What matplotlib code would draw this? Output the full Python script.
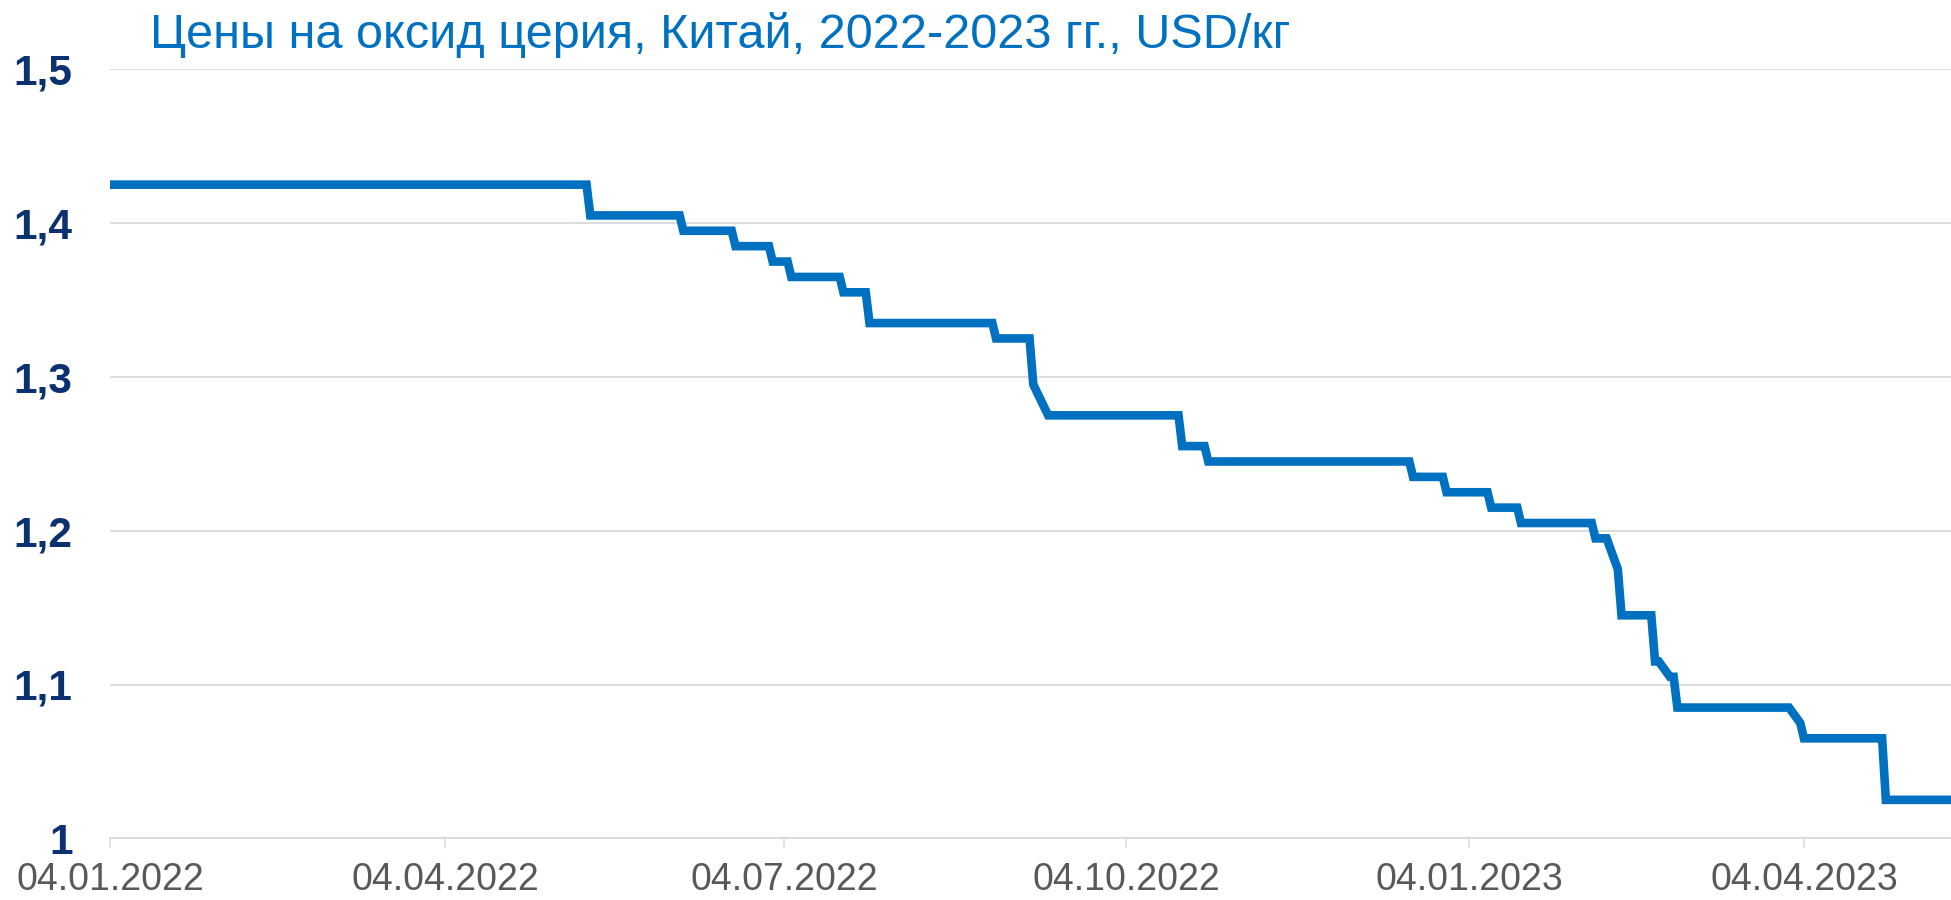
import matplotlib
matplotlib.use("Agg")
import matplotlib.pyplot as plt
import matplotlib.dates as mdates
import pandas as pd

plt.rcParams["font.family"] = ["Liberation Sans", "DejaVu Sans"]

# cerium oxide price, China, USD/kg (vertices of the daily series)
dates = [
    "2022-01-04", "2022-05-12", "2022-05-13", "2022-06-06", "2022-06-07",
    "2022-06-20", "2022-06-21", "2022-06-30", "2022-07-01", "2022-07-05",
    "2022-07-06", "2022-07-19", "2022-07-20", "2022-07-26", "2022-07-27",
    "2022-08-29", "2022-08-30", "2022-09-08", "2022-09-09", "2022-09-13",
    "2022-10-18", "2022-10-19", "2022-10-25", "2022-10-26", "2022-12-19",
    "2022-12-20", "2022-12-28", "2022-12-29", "2023-01-09", "2023-01-10",
    "2023-01-17", "2023-01-18", "2023-02-06", "2023-02-07", "2023-02-10",
    "2023-02-13", "2023-02-14", "2023-02-22", "2023-02-23", "2023-02-24",
    "2023-02-27", "2023-02-28", "2023-03-01", "2023-03-31", "2023-04-03",
    "2023-04-04", "2023-04-25", "2023-04-26", "2023-05-15",
]
prices = [
    1.425, 1.425, 1.405, 1.405, 1.395,
    1.395, 1.385, 1.385, 1.375, 1.375,
    1.365, 1.365, 1.355, 1.355, 1.335,
    1.335, 1.325, 1.325, 1.295, 1.275,
    1.275, 1.255, 1.255, 1.245, 1.245,
    1.235, 1.235, 1.225, 1.225, 1.215,
    1.215, 1.205, 1.205, 1.195, 1.195,
    1.175, 1.145, 1.145, 1.115, 1.115,
    1.105, 1.105, 1.085, 1.085, 1.075,
    1.065, 1.065, 1.025, 1.025,
]

x_ticks = ["2022-01-04", "2022-04-04", "2022-07-04", "2022-10-04", "2023-01-04", "2023-04-04"]
y_ticks = [1.0, 1.1, 1.2, 1.3, 1.4, 1.5]
y_tick_labels = ["1", "1,1", "1,2", "1,3", "1,4", "1,5"]
title = "Цены на оксид церия, Китай, 2022-2023 гг., USD/кг"

blue = "#0070C0"
grid_gray = "#D9D9D9"

fig = plt.figure(figsize=(19.51, 9.0), dpi=100)
ax = fig.add_axes([110 / 1951, 1 - 838.3 / 900, 1 - 110 / 1951, (838.3 - 69.3) / 900])

ax.plot(pd.to_datetime(dates), prices, color=blue, linewidth=6.2,
        solid_joinstyle="miter", zorder=3)

ax.set_ylim(1.0, 1.5)
ax.set_xlim(pd.Timestamp("2022-01-04"), pd.Timestamp("2023-05-13 12:00"))

ax.set_yticks(y_ticks)
ax.set_yticklabels(y_tick_labels)
ax.set_xticks(pd.to_datetime(x_ticks))
ax.xaxis.set_major_formatter(mdates.DateFormatter("%d.%m.%Y"))

ax.grid(axis="y", color=grid_gray, linewidth=1.3)
ax.set_axisbelow(True)
for s in ["top", "right", "left"]:
    ax.spines[s].set_visible(False)
ax.spines["bottom"].set_color(grid_gray)
ax.spines["bottom"].set_linewidth(1.3)

ax.tick_params(axis="y", length=0, pad=27, labelsize=30.5, labelcolor="#0B3170")
for lab in ax.get_yticklabels():
    lab.set_fontweight("bold")
ax.tick_params(axis="x", length=7.2, width=1.1, color=grid_gray, pad=10,
               labelsize=27, labelcolor="#595959")

fig.text(149.6 / 1951, 1 - 48 / 900, title, color=blue, fontsize=35, va="baseline", ha="left")

plt.savefig("out.png", dpi=100)
